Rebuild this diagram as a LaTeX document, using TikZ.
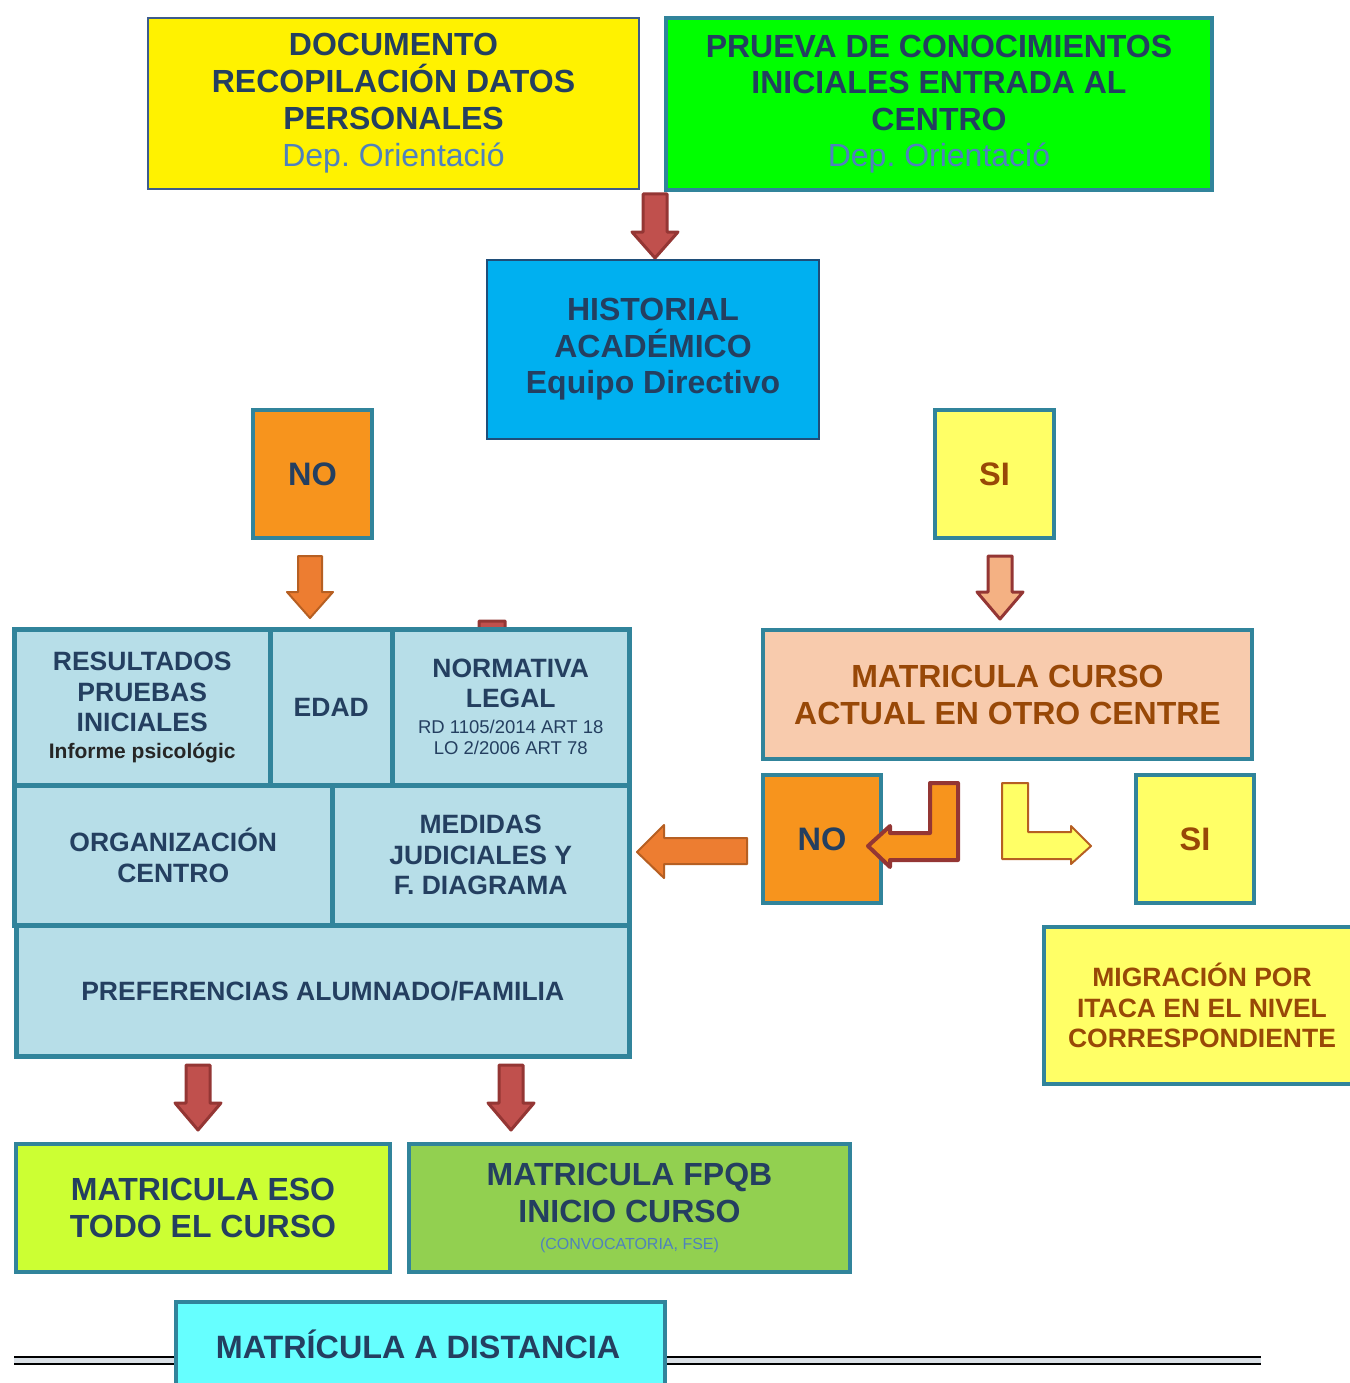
\documentclass[tikz,border=0pt]{standalone}
\usepackage{fontspec}
\setmainfont{Liberation Sans}
\frenchspacing
\definecolor{navy}{HTML}{243F60}
\definecolor{tealc}{HTML}{31849B}
\definecolor{orng}{HTML}{F7941D}
\definecolor{brwn}{HTML}{984807}
\definecolor{gridfill}{HTML}{B7DEE8}
\definecolor{lblue}{HTML}{4F81BD}
\definecolor{redf}{HTML}{C0504D}
\definecolor{redd}{HTML}{943634}
\definecolor{orf}{HTML}{ED7D31}
\definecolor{ord}{HTML}{B65F22}
\definecolor{peach}{HTML}{F8CBAD}
\definecolor{peacharr}{HTML}{F4B183}
\definecolor{paley}{HTML}{FFFF66}
\definecolor{docborder}{HTML}{3D5C8C}
\definecolor{greenf}{HTML}{00FF00}
\definecolor{histf}{HTML}{00B0F0}
\definecolor{histb}{HTML}{1F4E79}
\definecolor{limef}{HTML}{CCFF33}
\definecolor{fpqbf}{HTML}{92D050}
\definecolor{linegray}{HTML}{D9DFE5}
\definecolor{cyanf}{HTML}{66FFFF}
\newcommand\myfs[2]{\fontsize{#1}{#2}\selectfont}
\newcommand\mydownarrow[6]{% style, cx, top, headY, tip, halfshaft
  \draw[#1] ({#2-#6},#3) -- ({#2+#6},#3) -- ({#2+#6},#4) -- ({#2+23},#4) -- (#2,#5) -- ({#2-23},#4) -- ({#2-#6},#4) -- cycle;}
\tikzset{
  box/.style={draw=tealc, line width=4pt, rectangle, align=center, inner sep=0pt, text=navy, anchor=north west},
  cell/.style={box, fill=gridfill, line width=4.5pt},
  redarr/.style={fill=redf, draw=redd, line width=3pt, line join=round},
  orarr/.style={fill=orf, draw=ord, line width=2pt, line join=round},
  peacharrs/.style={fill=peacharr, draw=redd, line width=3pt, line join=round},
}
\begin{document}
\begin{tikzpicture}[x=1pt,y=-1pt]
\useasboundingbox (0,0) rectangle (1349,1383);
% top boxes
\node[box, draw=docborder, line width=2pt, fill=yellow, minimum width=491, minimum height=171,
  font=\bfseries\myfs{32}{37}] (doc) at (147,17)
  {DOCUMENTO\\RECOPILACIÓN DATOS\\PERSONALES\\\mdseries\color{lblue}Dep. Orientació};
\node[box, fill=greenf, minimum width=546, minimum height=172, font=\bfseries\myfs{32}{36.5}] (prueva) at (664,16)
  {PRUEVA DE CONOCIMIENTOS\\INICIALES ENTRADA AL\\CENTRO\\\mdseries\color{lblue}Dep. Orientació};
\mydownarrow{redarr}{655}{194}{232}{258}{12}
\node[box, draw=histb, line width=2pt, fill=histf, minimum width=332, minimum height=179,
  font=\bfseries\myfs{32}{36.5}] (hist) at (486,259)
  {HISTORIAL\\ACADÉMICO\\Equipo Directivo};
% NO / SI
\node[box, fill=orng, minimum width=119, minimum height=128, font=\bfseries\myfs{32.5}{36}] (no1) at (251,408) {NO};
\node[box, fill=paley, text=brwn, minimum width=119, minimum height=128, font=\bfseries\myfs{32.5}{36}] (si1) at (933,408) {SI};
\mydownarrow{orarr}{310}{556}{592}{618}{12}
\mydownarrow{peacharrs}{1000}{556}{592}{619}{12}
% hidden red arrow stub
\mydownarrow{redarr}{492}{621}{660}{690}{13}
% grid
\node[cell, minimum width=256, minimum height=156, font=\bfseries\myfs{26.5}{30.5}] (res) at (12,627)
  {RESULTADOS\\PRUEBAS\\INICIALES\\[-4pt]\color{black!85}\myfs{21}{24}Informe psicológic};
\node[cell, minimum width=122, minimum height=156, font=\bfseries\myfs{26.5}{30}] (edad) at (268,627) {EDAD};
\node[cell, minimum width=237, minimum height=156, font=\bfseries\myfs{26.5}{30}] (norm) at (390,627)
  {NORMATIVA\\LEGAL\\[-4pt]\mdseries\myfs{18.5}{21}RD 1105/2014 ART 18\\[-9pt]\mdseries\myfs{18.5}{21}LO 2/2006 ART 78};
\node[cell, minimum width=318, minimum height=140, font=\bfseries\myfs{26.5}{31}] (org) at (12,783) {ORGANIZACIÓN\\CENTRO};
\node[cell, minimum width=297, minimum height=140, font=\bfseries\myfs{26.5}{30.5}] (med) at (330,783) {MEDIDAS\\JUDICIALES Y\\F. DIAGRAMA};
\node[cell, minimum width=613, minimum height=131, font=\bfseries\myfs{26.5}{30}] (pref) at (14,923) {PREFERENCIAS ALUMNADO/FAMILIA};
% right side
\node[box, fill=peach, text=brwn, minimum width=489, minimum height=129, font=\bfseries\myfs{32}{37}] (mat) at (761,628)
  {MATRICULA CURSO\\ACTUAL EN OTRO CENTRE};
\node[box, fill=orng, minimum width=118, minimum height=128, font=\bfseries\myfs{32.5}{36}] (no2) at (761,773) {NO};
\node[box, fill=paley, text=brwn, minimum width=118, minimum height=128, font=\bfseries\myfs{32.5}{36}] (si2) at (1134,773) {SI};
\draw[fill=orng, draw=redd, line width=4pt, line join=round]
  (958,783) -- (958,860) -- (890,860) -- (890,867) -- (868,846) -- (890,826) -- (890,833) -- (930,833) -- (930,783) -- cycle;
\draw[fill=paley, draw=ord, line width=2pt, line join=round]
  (1002,783) -- (1002,859) -- (1071,859) -- (1071,864) -- (1091,846) -- (1071,826) -- (1071,832) -- (1028,832) -- (1028,783) -- cycle;
\draw[orarr] (747,838) -- (747,864) -- (664,864) -- (664,878) -- (637,852) -- (664,825) -- (664,838) -- cycle;
\node[box, fill=paley, text=brwn, minimum width=316, minimum height=157, font=\bfseries\myfs{26.5}{30.5}] (mig) at (1042,925)
  {MIGRACIÓN POR\\ITACA EN EL NIVEL\\CORRESPONDIENTE};
% bottom
\mydownarrow{redarr}{198}{1065}{1103}{1130}{12}
\mydownarrow{redarr}{511}{1065}{1103}{1130}{12}
\node[box, fill=limef, minimum width=374, minimum height=128, font=\bfseries\myfs{32}{37}] (eso) at (14,1142)
  {MATRICULA ESO\\TODO EL CURSO};
\node[box, fill=fpqbf, minimum width=441, minimum height=128, font=\bfseries\myfs{32}{37}] (fpqb) at (407,1142)
  {MATRICULA FPQB\\INICIO CURSO\\[-10pt]\mdseries\color{lblue}\myfs{16}{17}(CONVOCATORIA, FSE)};
\fill[linegray] (14,1357) rectangle (1261,1364);
\draw[black, line width=1.5pt] (14,1357) -- (1261,1357) (14,1364) -- (1261,1364);
\node[box, fill=cyanf, minimum width=489, minimum height=100] (dist) at (174,1300) {};
\node[text=navy, font=\bfseries\myfs{32.3}{36}] (distt) at (418,1344) {MATRÍCULA A DISTANCIA};
\end{tikzpicture}
\end{document}
